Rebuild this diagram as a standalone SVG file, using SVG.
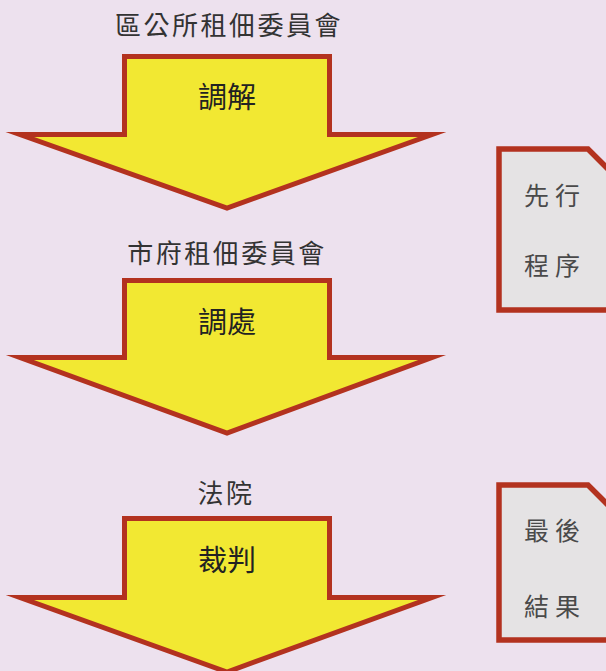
<svg xmlns="http://www.w3.org/2000/svg" width="606" height="671" viewBox="0 0 606 671">
<style>
.arrow{fill:#f2e832;stroke:#b3321f;stroke-width:5;stroke-linejoin:miter;stroke-miterlimit:10}
.doc{fill:#e5e3e4;stroke:#b3321f;stroke-width:5.5;stroke-linejoin:miter}
text{font-family:"Noto Sans CJK TC","Noto Sans CJK SC",sans-serif;text-anchor:middle}
.title{font-size:26px;fill:#333;letter-spacing:2.5px}
.lab{font-size:29px;fill:#222}
.doct{font-size:25px;fill:#4a4a4a;letter-spacing:6px}
</style>
<rect width="606" height="671" fill="#ede1ee"/>
<g id="connectors"></g>
<g id="node1">
<text class="title" x="229" y="35">區公所租佃委員會</text>
<path class="arrow" d="M124.5,56.5 H329.5 V134.5 H432 L227,208 L20,134.5 H124.5 Z"/>
<text class="lab" x="227" y="108">調解</text>
</g>
<g id="node2">
<text class="title" x="227" y="263">市府租佃委員會</text>
<path class="arrow" d="M124.5,280.5 H329.5 V357.5 H432 L227,433 L20,357.5 H124.5 Z"/>
<text class="lab" x="227" y="333">調處</text>
</g>
<g id="node3">
<text class="title" x="226" y="503">法院</text>
<path class="arrow" d="M124.5,518.5 H329.5 V597.5 H432 L227,672 L20,597.5 H124.5 Z"/>
<text class="lab" x="227" y="571">裁判</text>
</g>
<g id="doc1">
<path class="doc" d="M499,310 V149 H588 L611,172 V310 Z"/>
<text class="doct" x="555" y="205">先行</text>
<text class="doct" x="555" y="275">程序</text>
</g>
<g id="doc2">
<path class="doc" d="M499,640 V485 H588 L611,508 V640 Z"/>
<text class="doct" x="555" y="540">最後</text>
<text class="doct" x="555" y="616">結果</text>
</g>
</svg>
